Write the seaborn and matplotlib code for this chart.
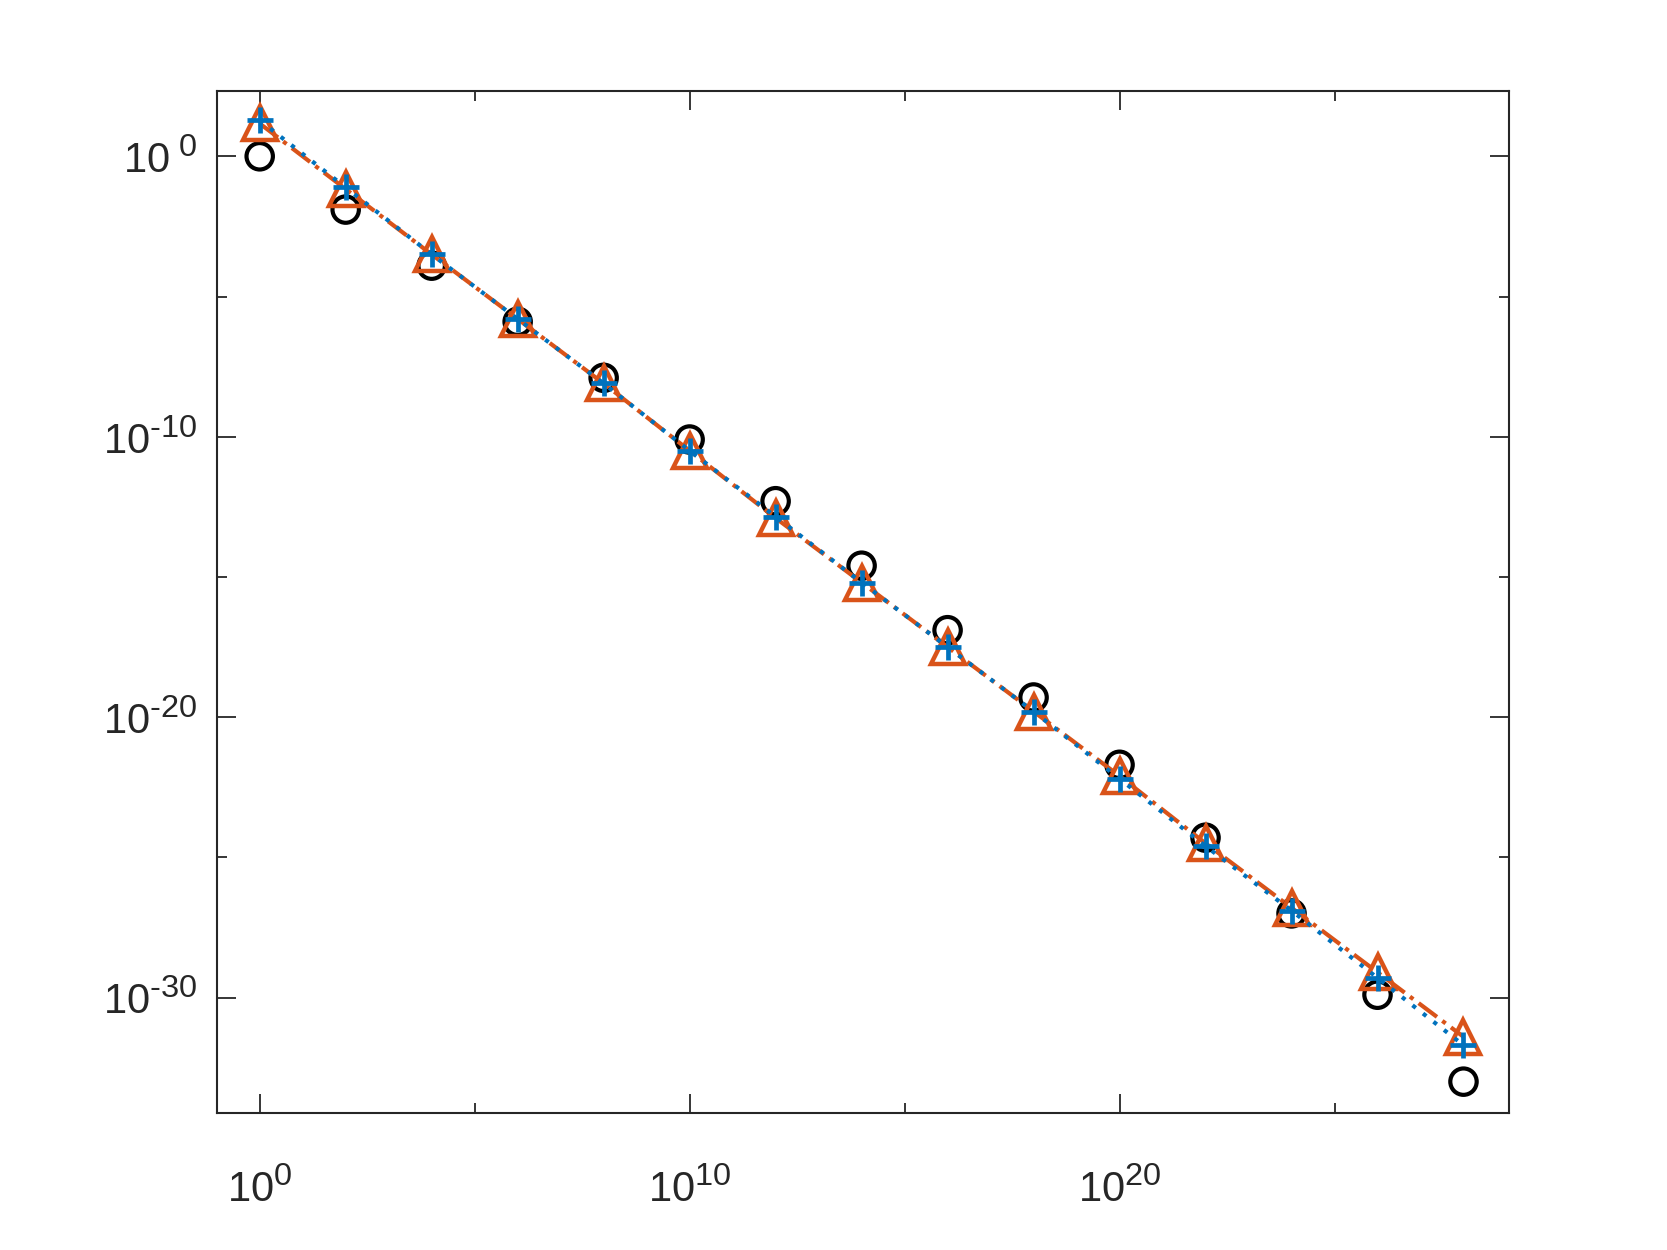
import numpy as np
import pandas as pd
import seaborn as sns
import matplotlib.pyplot as plt
import matplotlib._mathtext as mathtext_internals
from matplotlib.ticker import FixedLocator, FuncFormatter

# Data (exponents, base 10)
x_exp = [0, 2, 4, 6, 8, 10, 12, 14, 16, 18, 20, 22, 24, 26, 28]
circle_exp = [0.0, -1.9, -3.9, -5.9, -7.9, -10.1, -12.3, -14.6, -16.9, -19.3,
              -21.7, -24.3, -27.0, -29.9, -33.0]
triangle_exp = [1.17, -1.17, -3.5, -5.8, -8.1, -10.5, -12.9, -15.2, -17.5, -19.8,
                -22.1, -24.5, -26.8, -29.1, -31.4]
plus_exp = [1.28, -1.11, -3.5, -5.8, -8.1, -10.5, -12.85, -15.2, -17.5, -19.8,
            -22.2, -24.6, -26.9, -29.3, -31.7]

df = pd.DataFrame({
    "x": 10.0 ** np.array(x_exp),
    "circle": 10.0 ** np.array(circle_exp),
    "triangle": 10.0 ** np.array(triangle_exp),
    "plus": 10.0 ** np.array(plus_exp),
})

sns.set_theme(style="white")
plt.rcParams["font.family"] = ["Liberation Sans", "DejaVu Sans"]
plt.rcParams["mathtext.fontset"] = "custom"
plt.rcParams["mathtext.rm"] = "Liberation Sans"
plt.rcParams["mathtext.it"] = "Liberation Sans"
plt.rcParams["mathtext.default"] = "regular"
# slightly larger superscripts, like the MATLAB tick labels
mathtext_internals.SHRINK_FACTOR = 0.78

fig = plt.figure(figsize=(16.67, 12.5), dpi=100)
ax = fig.add_axes([0.13, 0.11, 0.775, 0.817])

orange = "#D95319"
blue = "#0072BD"

sns.scatterplot(data=df, x="x", y="circle", ax=ax, marker="o", s=19 ** 2,
                facecolor="none", edgecolor="black", linewidth=3.0, zorder=2)
sns.lineplot(data=df, x="x", y="triangle", ax=ax, color=orange,
             linewidth=3.0, dashes=(5.5, 1.6, 1.0, 1.6),
             marker="^", markersize=25, markerfacecolor="none",
             markeredgecolor=orange, markeredgewidth=3.2, zorder=3)
sns.lineplot(data=df, x="x", y="plus", ax=ax, color=blue,
             linewidth=3.0, dashes=(1.0, 2.2),
             marker="+", markersize=19,
             markeredgecolor=blue, markeredgewidth=3.4, zorder=4)

ax.set_xscale("log")
ax.set_yscale("log")
ax.set_xlim(10 ** -1, 10 ** 29.05)
ax.set_ylim(10 ** -34.1, 10 ** 2.32)

def fmt_x(v, pos):
    e = int(round(np.log10(v)))
    return r"$10^{\text{%d}}$" % e

def fmt_y(v, pos):
    e = int(round(np.log10(v)))
    if e == 0:
        return r"$10^{\ \text{0}}$"
    return r"$10^{\text{%d}}$" % e

ax.xaxis.set_major_locator(FixedLocator([1e0, 1e10, 1e20]))
ax.xaxis.set_minor_locator(FixedLocator([1e5, 1e15, 1e25]))
ax.yaxis.set_major_locator(FixedLocator([1e-30, 1e-20, 1e-10, 1e0]))
ax.yaxis.set_minor_locator(FixedLocator([1e-25, 1e-15, 1e-5]))
ax.xaxis.set_major_formatter(FuncFormatter(fmt_x))
ax.yaxis.set_major_formatter(FuncFormatter(fmt_y))
ax.xaxis.set_minor_formatter(FuncFormatter(lambda v, p: ""))
ax.yaxis.set_minor_formatter(FuncFormatter(lambda v, p: ""))

ax.tick_params(which="both", direction="in", top=True, right=True,
               bottom=True, left=True, color="#262626", width=1.3)
ax.tick_params(which="major", length=14, labelsize=30, colors="#262626")
ax.tick_params(axis="x", which="major", pad=40)
ax.tick_params(axis="y", which="major", pad=14)
ax.tick_params(which="minor", length=7)
for s in ax.spines.values():
    s.set_color("#262626")
    s.set_linewidth(1.5)

ax.set_xlabel("")
ax.set_ylabel("")
ax.grid(False)

fig.savefig("out.png", dpi=100)
